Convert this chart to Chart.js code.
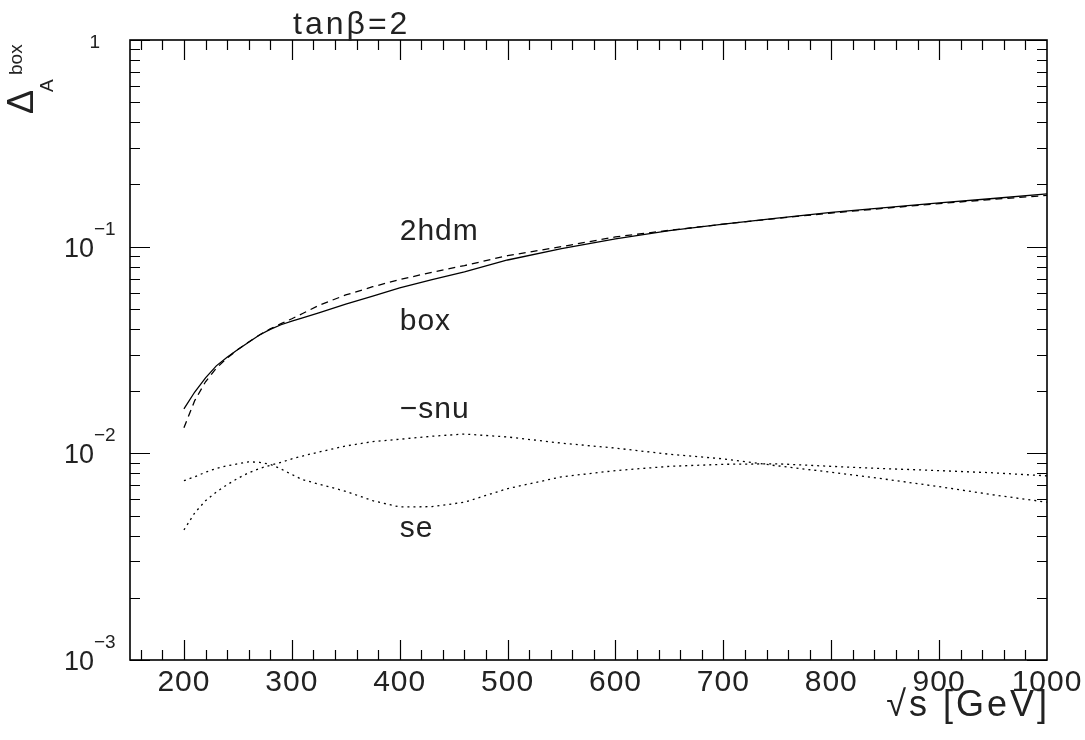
<!DOCTYPE html>
<html>
<head>
<meta charset="utf-8">
<script src="https://cdn.jsdelivr.net/npm/chart.js@4/dist/chart.umd.min.js"></script>
<style>
  html, body { margin: 0; padding: 0; background: #fff; }
  canvas { display: block; }
</style>
</head>
<body>
<canvas id="chart" width="1085" height="740"></canvas>
<script>
// sqrt(s) in GeV
var energies = [200, 210, 220, 230, 240, 250, 260, 270, 280, 290, 300, 310, 325, 350, 375,
  400, 430, 460, 500, 550, 600, 650, 700, 750, 800, 850, 900, 950, 1000];

// solid line
var boxValues = [0.0164, 0.0198, 0.0232, 0.0265, 0.0292, 0.0318, 0.0345, 0.0374, 0.0398, 0.0419,
  0.0436, 0.0452, 0.0478, 0.0527, 0.0576, 0.0632, 0.0693, 0.0755, 0.0862, 0.0978, 0.1090,
  0.1195, 0.1285, 0.1375, 0.1465, 0.1545, 0.1630, 0.1710, 0.1800];

// dashed line
var hdmValues = [0.0133, 0.0180, 0.0222, 0.0258, 0.0289, 0.0318, 0.0346, 0.0374, 0.0400, 0.0424,
  0.0448, 0.0475, 0.0520, 0.0584, 0.0640, 0.0693, 0.0752, 0.0810, 0.0905, 0.1000, 0.1115,
  0.1200, 0.1285, 0.1370, 0.1455, 0.1535, 0.1615, 0.1695, 0.1770];

// dotted, the one with the hump at 460
var snuValues = [0.00426, 0.00515, 0.00590, 0.00650, 0.00705, 0.00757, 0.00805, 0.00845, 0.00875,
  0.00905, 0.00940, 0.00970, 0.01015, 0.01085, 0.01140, 0.01170, 0.01210, 0.01240, 0.01200,
  0.01120, 0.01060, 0.00990, 0.00940, 0.00870, 0.00810, 0.00750, 0.00690, 0.00630, 0.00580];

// dotted, the one with the dip at 400
var seValues = [0.00737, 0.00770, 0.00810, 0.00845, 0.00870, 0.00890, 0.00910, 0.00905, 0.00885,
  0.00840, 0.00790, 0.00745, 0.00710, 0.00655, 0.00590, 0.00550, 0.00552, 0.00580, 0.00675,
  0.00770, 0.00825, 0.00865, 0.00885, 0.00890, 0.00865, 0.00843, 0.00825, 0.00805, 0.00778];

var xTickLabels = [200, 300, 400, 500, 600, 700, 800, 900, 1000];
var yTickExponents = [0, -1, -2, -3];

var FONT = '"Liberation Sans", Arial, sans-serif';
var INK = "#222";

function points(values) {
  return energies.map(function(e, i) { return { x: e, y: values[i] }; });
}

function line(label, values, dash) {
  return {
    label: label,
    data: points(values),
    borderColor: "#000",
    borderWidth: 1.3,
    borderDash: dash,
    pointRadius: 0,
    tension: 0,
    fill: false
  };
}

var framePlugin = {
  id: "frame",
  beforeDraw: function(chart) {
    var ctx = chart.ctx;
    ctx.save();
    ctx.fillStyle = "#fff";
    ctx.fillRect(0, 0, chart.width, chart.height);
    ctx.restore();
  },
  afterDraw: function(chart) {
    var ctx = chart.ctx;
    var area = chart.chartArea;
    var xs = chart.scales.x;
    var ys = chart.scales.y;
    var i, d, m, px, py;

    ctx.save();
    ctx.strokeStyle = "#000";
    ctx.lineWidth = 1.6;
    ctx.strokeRect(area.left, area.top, area.right - area.left, area.bottom - area.top);

    // x ticks, bottom and top, pointing in
    ctx.lineWidth = 1.2;
    ctx.beginPath();
    for (i = 160; i < 1000; i += 20) {
      px = Math.round(xs.getPixelForValue(i)) + 0.5;
      var len = (i % 100 === 0) ? 20 : 10;
      ctx.moveTo(px, area.bottom); ctx.lineTo(px, area.bottom - len);
      ctx.moveTo(px, area.top); ctx.lineTo(px, area.top + len);
    }
    // y ticks, left and right
    for (d = -3; d <= 0; d++) {
      for (m = 1; m <= 9; m++) {
        var v = m * Math.pow(10, d);
        if (v > 1 || (d === 0 && m > 1)) continue;
        py = Math.round(ys.getPixelForValue(v)) + 0.5;
        var ylen = m === 1 ? 20 : 10;
        ctx.moveTo(area.left, py); ctx.lineTo(area.left + ylen, py);
        ctx.moveTo(area.right, py); ctx.lineTo(area.right - ylen, py);
      }
    }
    ctx.stroke();

    ctx.fillStyle = INK;

    // x tick labels
    ctx.font = "30px " + FONT;
    ctx.textAlign = "center";
    ctx.textBaseline = "alphabetic";
    ctx.letterSpacing = "1px";
    xTickLabels.forEach(function(t) {
      ctx.fillText(String(t), xs.getPixelForValue(t), area.bottom + 31);
    });
    ctx.letterSpacing = "0px";

    // y tick labels, 10 with a superscript exponent
    yTickExponents.forEach(function(e) {
      py = ys.getPixelForValue(Math.pow(10, e));
      if (e === 0) {
        ctx.font = "19px " + FONT;
        ctx.textAlign = "right";
        ctx.fillText("1", area.left - 30, py + 8);
        return;
      }
      ctx.font = "19px " + FONT;
      ctx.textAlign = "left";
      ctx.fillText(String(e).replace("-", "\u2212"), area.left - 36, py - 12);
      ctx.font = "27px " + FONT;
      ctx.textAlign = "right";
      ctx.fillText("10", area.left - 36, py + 10);
    });

    // curve labels
    ctx.font = "30px " + FONT;
    ctx.textAlign = "left";
    ctx.letterSpacing = "1px";
    ctx.fillText("2hdm", xs.getPixelForValue(400), ys.getPixelForValue(0.1077));
    ctx.fillText("box", xs.getPixelForValue(400), ys.getPixelForValue(0.0395));
    ctx.fillText("\u2212snu", xs.getPixelForValue(400), ys.getPixelForValue(0.01483));
    ctx.fillText("se", xs.getPixelForValue(400), ys.getPixelForValue(0.00394));

    // title
    ctx.font = "32px " + FONT;
    ctx.letterSpacing = "3px";
    ctx.fillText("tan\u03b2=2", 293, 34);

    // x axis title
    ctx.textAlign = "right";
    ctx.font = "36px " + FONT;
    ctx.letterSpacing = "3px";
    ctx.fillText("\u221as [GeV]", area.right + 3, 716);
    ctx.letterSpacing = "0px";

    // y axis title, rotated
    ctx.save();
    ctx.translate(33, 114);
    ctx.rotate(-Math.PI / 2);
    ctx.textAlign = "left";
    ctx.font = "36px " + FONT;
    ctx.fillText("\u0394", 0, 0);
    ctx.font = "19px " + FONT;
    ctx.fillText("A", 22, 20);
    ctx.fillText("box", 39, -11);
    ctx.restore();

    ctx.restore();
  }
};

new Chart(document.getElementById("chart").getContext("2d"), {
  type: "line",
  data: {
    datasets: [
      line("box", boxValues, []),
      line("2hdm", hdmValues, [7, 5]),
      line("-snu", snuValues, [2, 4]),
      line("se", seValues, [2, 4])
    ]
  },
  options: {
    responsive: false,
    animation: false,
    devicePixelRatio: 1,
    layout: { padding: { left: 130, right: 38, top: 40, bottom: 80 } },
    scales: {
      x: { type: "linear", min: 150, max: 1000, display: false },
      y: { type: "logarithmic", min: 0.001, max: 1, display: false }
    },
    plugins: { legend: { display: false }, tooltip: { enabled: false } }
  },
  plugins: [framePlugin]
});
</script>
</body>
</html>
